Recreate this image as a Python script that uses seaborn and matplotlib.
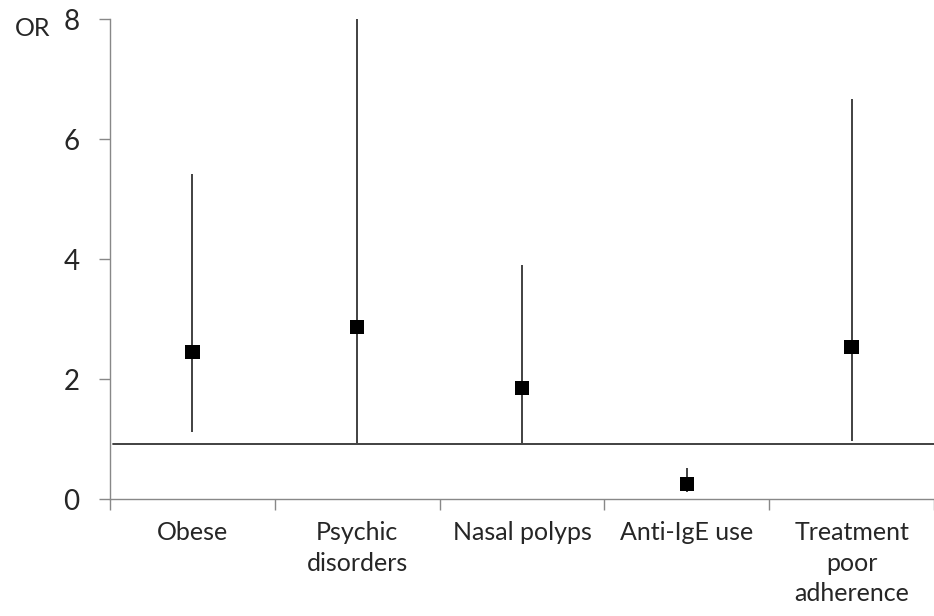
import pandas as pd
import matplotlib.pyplot as plt
import seaborn as sns

categories = ["Obese", "Psychic\ndisorders", "Nasal polyps", "Anti-IgE use", "Treatment\npoor\nadherence"]
odds_ratio = [2.45, 2.87, 1.85, 0.25, 2.53]
ci_low = [1.12, 0.93, 0.93, 0.12, 0.97]
ci_high = [5.41, 8.0, 3.9, 0.52, 6.66]
ref_line = 0.92
y_ticks = [0, 2, 4, 6, 8]

df = pd.DataFrame({"cat": range(len(categories)), "or": odds_ratio, "lo": ci_low, "hi": ci_high})

sns.set_style("white")
plt.rcParams["font.family"] = ["Lato", "DejaVu Sans"]

fig = plt.figure(figsize=(9.34, 6.16), dpi=100)
ax = fig.add_axes([110 / 934, 117 / 616, 824 / 934, 480 / 616])

# reference line and confidence intervals
ax.axhline(ref_line, xmin=0.004, xmax=1, color="#333333", lw=1.3, zorder=1)
ax.vlines(df["cat"], df["lo"], df["hi"], color="#333333", lw=1.3, zorder=2)
sns.scatterplot(data=df, x="cat", y="or", marker="s", s=105, color="black",
                edgecolor="none", ax=ax, zorder=3)

ax.set_xlim(-0.5, 4.465)
ax.set_ylim(0, 8)
ax.set_yticks(y_ticks)
ax.set_yticklabels([str(t) for t in y_ticks], fontsize=20)
ax.set_xticks(range(len(categories)))
ax.set_xticklabels(categories, fontsize=18, linespacing=1.4)
ax.set_xticks([i - 0.5 for i in range(len(categories) + 1)], minor=True)
ax.tick_params(axis="x", which="major", length=0, pad=16)
ax.tick_params(axis="x", which="minor", bottom=True, length=8, width=1,
               color="#888888", direction="out")
ax.tick_params(axis="y", left=True, length=8, width=1, color="#888888",
               direction="out", pad=14)
ax.set_xlabel("")
ax.set_ylabel("")

for side in ["top", "right"]:
    ax.spines[side].set_visible(False)
for side in ["left", "bottom"]:
    ax.spines[side].set_color("#888888")
    ax.spines[side].set_linewidth(1)

fig.text(15 / 934, 1 - 29 / 616, "OR", fontsize=18, va="center", ha="left")

fig.savefig("out.png", dpi=100)
